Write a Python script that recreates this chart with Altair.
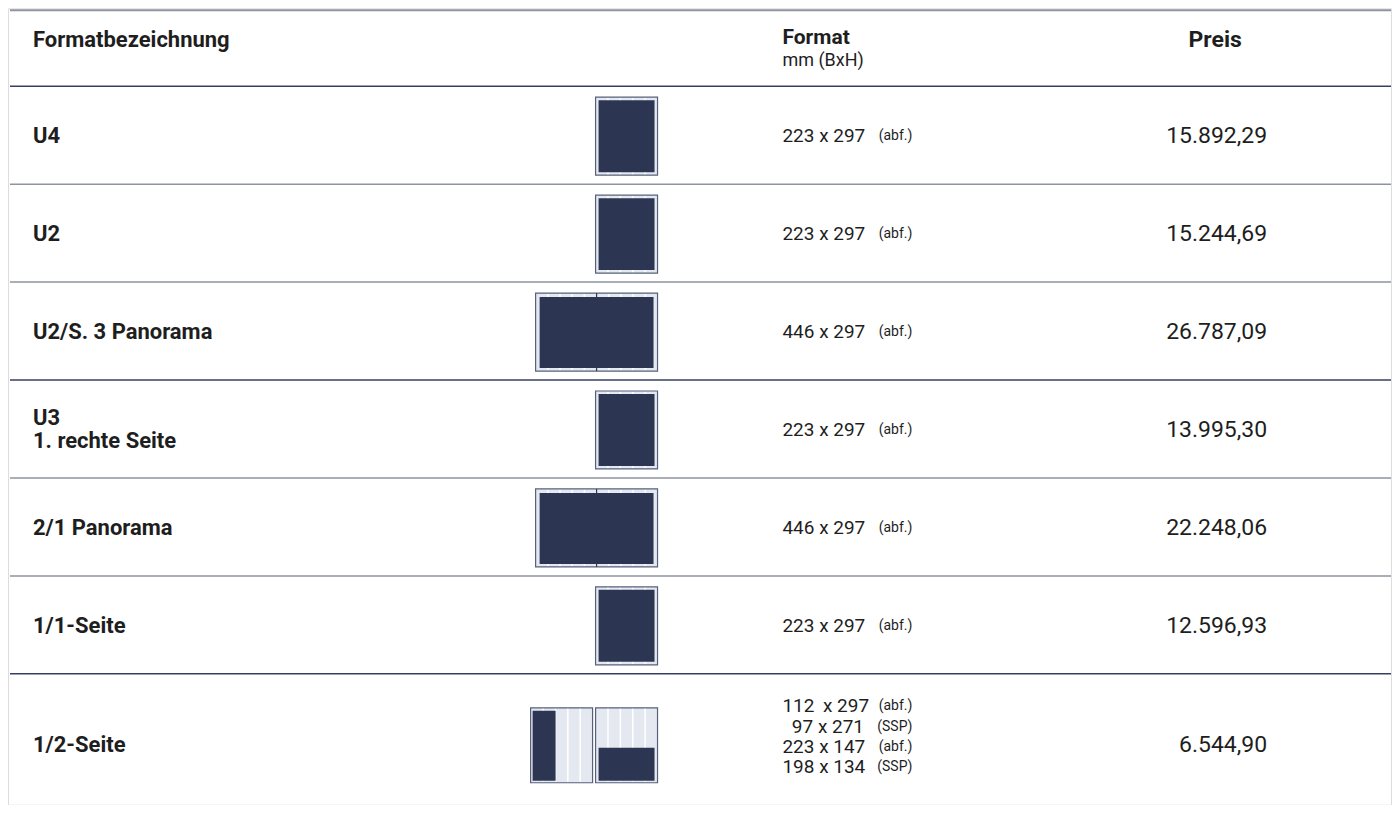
import altair as alt
import pandas as pd

# ---------------- data ----------------
header_name = "Formatbezeichnung"
header_format = "Format"
header_unit = "mm (BxH)"
header_price = "Preis"

names = ["U4", "U2", "U2/S. 3 Panorama", "U3\n1. rechte Seite", "2/1 Panorama", "1/1-Seite", "1/2-Seite"]
dims = [
    ["223 x 297"],
    ["223 x 297"],
    ["446 x 297"],
    ["223 x 297"],
    ["446 x 297"],
    ["223 x 297"],
    ["112\u2009 x 297", "\u200b\u00a0\u00a097 x 271", "223 x 147", "198 x 134"],
]
notes = [
    ["(abf.)"], ["(abf.)"], ["(abf.)"], ["(abf.)"], ["(abf.)"], ["(abf.)"],
    ["(abf.)", "(SSP)", "(abf.)", "(SSP)"],
]
prices = ["15.892,29", "15.244,69", "26.787,09", "13.995,30", "22.248,06", "12.596,93", "6.544,90"]
icons = ["page", "page", "spread", "page", "spread", "page", "half"]

# ---------------- layout ----------------
W, H = 1384, 797
X0, Y0 = 8, 8  # page margin: data coords == screen pixels
TOP_LINE = 10
HEAD_LINE = 86
ROW_H = 98
row_tops = [HEAD_LINE + ROW_H * i for i in range(len(names))]
row_centers = [t + 50 for t in row_tops[:-1]] + [745]

DARK = "#2c3652"
LIGHT = "#e4e9f1"
FRAME = "#56607a"
LINE_DARK = "#36415f"
LINE_GREY = "#8d939f"
TXT = "#1e1e1e"

FONT = "Roboto"

# separators
rules = [dict(y=TOP_LINE, x=10, x2=1392, c=LINE_GREY, w=2)]
for i, t in enumerate(row_tops):
    rules.append(dict(y=t, x=10, x2=1392, c=LINE_DARK if i % 3 == 0 else LINE_GREY, w=1.5))
rules_df = pd.DataFrame(rules)

# icons
frames, cols, darks, divs = [], [], [], []
for kind, c in zip(icons, row_centers):
    if kind == "page":
        x0, x1, y0, y1 = 596, 658, c - 39, c + 39
        frames.append(dict(x=x0, x2=x1, y=y0, y2=y1))
        for k in range(1, 5):
            xx = x0 + (x1 - x0) * k / 5
            cols.append(dict(x=xx, y=y0 + 1, y2=y1 - 1))
        darks.append(dict(x=x0 + 3, x2=x1 - 3, y=y0 + 3, y2=y1 - 3))
    elif kind == "spread":
        x0, x1, y0, y1 = 536, 658, c - 39, c + 39
        frames.append(dict(x=x0, x2=x1, y=y0, y2=y1))
        for k in range(1, 10):
            if k == 5:
                continue
            xx = x0 + (x1 - x0) * k / 10
            cols.append(dict(x=xx, y=y0 + 1, y2=y1 - 1))
        darks.append(dict(x=x0 + 4, x2=x1 - 4, y=y0 + 4, y2=y1 - 3))
        divs.append(dict(x=(x0 + x1) / 2, y=y0, y2=y1))
    else:  # half pages
        y0, y1 = c - 37, c + 38
        for (x0, x1) in [(531, 593), (596, 658)]:
            frames.append(dict(x=x0, x2=x1, y=y0, y2=y1))
            for k in range(1, 5):
                xx = x0 + (x1 - x0) * k / 5
                cols.append(dict(x=xx, y=y0 + 1, y2=y1 - 1))
        darks.append(dict(x=533, x2=556, y=y0 + 3, y2=y1 - 2))
        darks.append(dict(x=599, x2=655, y=c + 3, y2=y1 - 2))

frames_df = pd.DataFrame(frames)
cols_df = pd.DataFrame(cols)
darks_df = pd.DataFrame(darks)
divs_df = pd.DataFrame(divs)

# texts
bold_left, head_left, unit_left, dim_left, note_right, center_bold, right_reg = [], [], [], [], [], [], []
bold_left.append(dict(x=33, y=40, t=header_name))
head_left.append(dict(x=783, y=38, t=header_format))
unit_left.append(dict(x=783, y=61, t=header_unit))
center_bold.append(dict(x=1216, y=40, t=header_price))
for name, d, n, p, c in zip(names, dims, notes, prices, row_centers):
    parts = name.split("\n")
    for i, s in enumerate(parts):
        bold_left.append(dict(x=33, y=c + (i - (len(parts) - 1) / 2) * 23, t=s))
    shift = -8 if len(d) > 1 else 0
    for i, (s, nn) in enumerate(zip(d, n)):
        yy = c + shift + (i - (len(d) - 1) / 2) * 20.3
        dim_left.append(dict(x=783, y=yy, t=s))
        note_right.append(dict(x=913, y=yy, t=nn))
    right_reg.append(dict(x=1268, y=c, t=p))

xs = alt.Scale(domain=[X0, X0 + W], range=[0, W], nice=False, zero=False)
ys = alt.Scale(domain=[Y0, Y0 + H], range=[0, H], nice=False, zero=False)


def X(f="x"):
    return alt.X(f"{f}:Q", scale=xs, axis=None)


def Y(f="y"):
    return alt.Y(f"{f}:Q", scale=ys, axis=None)


frame_layer = alt.Chart(frames_df).mark_rect(fill=LIGHT, stroke=FRAME, strokeWidth=1.2).encode(
    x=X(), x2="x2:Q", y=Y(), y2="y2:Q")
col_layer = alt.Chart(cols_df).mark_rule(color="#ffffff", strokeWidth=1.5).encode(
    x=X(), y=Y(), y2="y2:Q")
dark_layer = alt.Chart(darks_df).mark_rect(fill=DARK).encode(
    x=X(), x2="x2:Q", y=Y(), y2="y2:Q")
div_layer = alt.Chart(divs_df).mark_rule(color=DARK, strokeWidth=1.2).encode(
    x=X(), y=Y(), y2="y2:Q")
rule_layer = alt.Chart(rules_df).mark_rule().encode(
    y=Y(), x=X(), x2="x2:Q",
    color=alt.Color("c:N", scale=None),
    strokeWidth=alt.StrokeWidth("w:Q", scale=None))


def txt(rows, size, weight, align, color=TXT):
    return alt.Chart(pd.DataFrame(rows)).mark_text(
        font=FONT, fontSize=size, fontWeight=weight, align=align, baseline="middle", color=color
    ).encode(x=X(), y=Y(), text="t:N")


chart = alt.layer(
    frame_layer, col_layer, dark_layer, div_layer, rule_layer,
    txt(bold_left, 22, "bold", "left"),
    txt(head_left, 21, "bold", "left"),
    txt(unit_left, 18, "normal", "left"),
    txt(dim_left, 19, "normal", "left"),
    txt(note_right, 14, "normal", "right"),
    txt(center_bold, 23, "bold", "center"),
    txt(right_reg, 23, "normal", "right"),
).properties(width=W, height=H).configure_view(stroke=None).configure(padding=0)

chart.save("out.html", embed_options={"renderer": "svg", "actions": False})
